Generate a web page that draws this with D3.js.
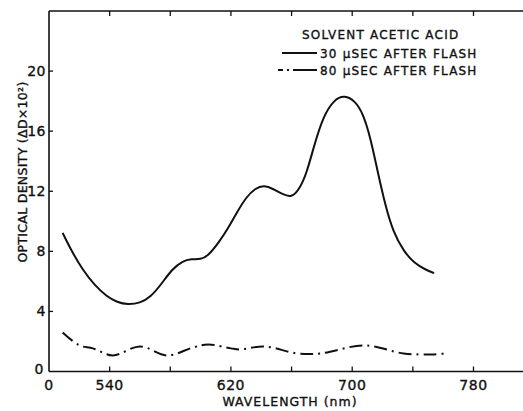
<!DOCTYPE html>
<html>
<head>
<meta charset="utf-8">
<script src="https://cdn.jsdelivr.net/npm/d3@7"></script>
<style>
  body { margin: 0; background: #fff; }
  text { font-family: "DejaVu Sans", sans-serif; fill: #111; stroke: #111; stroke-width: 0.35px; }
</style>
</head>
<body>
<svg id="chart"></svg>
<script>
// 30 usec after flash (solid)
const wl30 = [509, 515, 522, 530, 538, 545, 552, 560, 567, 574, 581, 588, 594, 600, 605, 612, 618, 624, 630, 636, 642, 648, 654, 660, 665, 670, 675, 681, 688, 695, 702, 707, 712, 717, 722, 727, 734, 741, 748, 754];
const od30 = [9.23, 8.0, 6.8, 5.75, 5.0, 4.6, 4.45, 4.55, 4.95, 5.8, 6.8, 7.35, 7.5, 7.45, 7.7, 8.6, 9.5, 10.6, 11.6, 12.2, 12.4, 12.15, 11.8, 11.57, 12.1, 13.2, 15.1, 17.0, 18.1, 18.4, 18.0, 17.2, 15.6, 13.2, 11.0, 9.3, 8.0, 7.2, 6.8, 6.55];
// 80 usec after flash (dash-dot)
const wl80 = [509, 520, 529, 542, 560, 578, 595, 605, 620, 626, 642, 664, 679, 708, 734, 752, 762];
const od80 = [2.6, 1.74, 1.54, 1.07, 1.67, 1.07, 1.6, 1.8, 1.54, 1.47, 1.67, 1.2, 1.2, 1.74, 1.2, 1.14, 1.2];

const xTicks = [500, 540, 620, 700, 780];
const xTickLabels = ["0", "540", "620", "700", "780"];
const xMinor = [540, 580, 620, 660, 700, 740, 780];
const yTicks = [0, 4, 8, 12, 16, 20];

const legendTitle = "SOLVENT ACETIC ACID";
const legendItems = ["30 \u03bcSEC AFTER FLASH", "80 \u03bcSEC AFTER FLASH"];

const width = 523, height = 411;
const svg = d3.select("#chart").attr("width", width).attr("height", height);

const x = d3.scaleLinear().domain([500, 812]).range([49, 522]);
const y = d3.scaleLinear().domain([0, 24]).range([371.5, 11]);

const frame = svg.append("g").attr("stroke", "#111").attr("stroke-width", 1.6).attr("fill", "none");
frame.append("line").attr("x1", x(500)).attr("x2", width).attr("y1", y(0)).attr("y2", y(0));
frame.append("line").attr("x1", x(500)).attr("x2", width).attr("y1", y(24)).attr("y2", y(24));
frame.append("line").attr("x1", x(500)).attr("x2", x(500)).attr("y1", y(0)).attr("y2", y(24));

// inward ticks
svg.selectAll("line.xtick")
  .data(xMinor)
  .enter().append("line")
  .attr("class", "xtick")
  .attr("x1", d => x(d)).attr("x2", d => x(d))
  .attr("y1", y(0)).attr("y2", y(0) - 5)
  .style("stroke", "#111").style("stroke-width", 1.3);
svg.selectAll("line.toptick")
  .data(xMinor)
  .enter().append("line")
  .attr("class", "toptick")
  .attr("x1", d => x(d)).attr("x2", d => x(d))
  .attr("y1", y(24)).attr("y2", y(24) + 5)
  .style("stroke", "#111").style("stroke-width", 1.3);
svg.selectAll("line.ytick")
  .data(yTicks.slice(1))
  .enter().append("line")
  .attr("class", "ytick")
  .attr("x1", x(500)).attr("x2", x(500) + 4)
  .attr("y1", d => y(d)).attr("y2", d => y(d))
  .style("stroke", "#111").style("stroke-width", 1.3);

svg.selectAll("text.xlabel")
  .data(xTicks)
  .enter().append("text")
  .attr("class", "xlabel")
  .attr("x", d => x(d))
  .attr("y", 390)
  .attr("text-anchor", "middle")
  .style("font-size", "14px")
  .style("letter-spacing", "0.5px")
  .text((d, i) => xTickLabels[i]);

svg.selectAll("text.ylabel")
  .data(yTicks)
  .enter().append("text")
  .attr("class", "ylabel")
  .attr("x", d => d === 0 ? 44 : 46)
  .attr("y", d => d === 0 ? y(d) - 3 : y(d))
  .attr("dy", "0.36em")
  .attr("text-anchor", "end")
  .style("font-size", "14px")
  .style("letter-spacing", "0.5px")
  .text(d => d);

svg.append("text")
  .attr("x", 290).attr("y", 406)
  .attr("text-anchor", "middle")
  .style("font-size", "12.5px")
  .style("letter-spacing", "1px")
  .text("WAVELENGTH (nm)");

svg.append("text")
  .attr("transform", "translate(27,172) rotate(-90)")
  .attr("text-anchor", "middle")
  .style("font-size", "12.5px")
  .style("letter-spacing", "0.3px")
  .text("OPTICAL DENSITY (\u0394D\u00d710\u00b2)");

const line = d3.line()
  .x(d => x(d[0]))
  .y(d => y(d[1]))
  .curve(d3.curveBasis);

svg.append("path")
  .datum(d3.zip(wl30, od30))
  .attr("d", line)
  .attr("fill", "none")
  .attr("stroke", "#111")
  .attr("stroke-width", 2);

svg.append("path")
  .datum(d3.zip(wl80, od80))
  .attr("d", line.curve(d3.curveCatmullRom.alpha(0.5)))
  .attr("fill", "none")
  .attr("stroke", "#111")
  .attr("stroke-width", 2)
  .attr("stroke-dasharray", "13,5,2,5");

// legend
const leg = svg.append("g");
leg.append("text").attr("x", 302).attr("y", 39)
  .style("font-size", "12px").style("letter-spacing", "1.2px").text(legendTitle);
leg.selectAll("text.item")
  .data(legendItems)
  .enter().append("text")
  .attr("class", "item")
  .attr("x", 320)
  .attr("y", (d, i) => 57.5 + i * 17)
  .style("font-size", "12px")
  .style("letter-spacing", "1.2px")
  .text(d => d);
leg.append("line").attr("x1", 282).attr("x2", 317).attr("y1", 53).attr("y2", 53)
  .style("stroke", "#111").style("stroke-width", 2);
leg.append("line").attr("x1", 278).attr("x2", 317).attr("y1", 70).attr("y2", 70)
  .style("stroke", "#111").style("stroke-width", 2)
  .style("stroke-dasharray", "5,4,2,4,24");
</script>
</body>
</html>
